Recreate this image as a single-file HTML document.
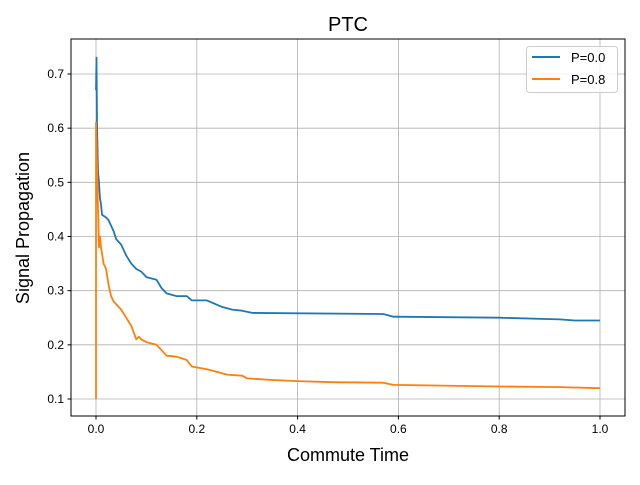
<!DOCTYPE html>
<html><head><meta charset="utf-8"><style>
body{margin:0;background:#fff;}
svg text{font-family:"Liberation Sans","DejaVu Sans",sans-serif;}
</style></head><body>
<svg id="chart" width="640" height="480" xmlns="http://www.w3.org/2000/svg">
<rect width="640" height="480" fill="#fff"/>
<g id="grid"></g>
<g id="series"></g>
<rect x="71" y="39" width="554" height="377" fill="none" stroke="#000" stroke-width="1"/>
<g id="ticks"></g>
<text x="348" y="31" font-size="20" text-anchor="middle">PTC</text>
<text x="348" y="461" font-size="18" text-anchor="middle">Commute Time</text>
<text transform="translate(29,228) rotate(-90)" font-size="18" text-anchor="middle">Signal Propagation</text>
<g>
<rect x="526.5" y="46.5" width="91" height="46" rx="3" fill="#fff" fill-opacity="0.8" stroke="#ccc"/>
<line x1="532" y1="57" x2="560" y2="57" stroke="#1f77b4" stroke-width="2"/>
<text x="571" y="62" font-size="13">P=0.0</text>
<line x1="532" y1="79" x2="560" y2="79" stroke="#ff7f0e" stroke-width="2"/>
<text x="571" y="84" font-size="13">P=0.8</text>
</g>
</svg>
<script>
const xTicks=[0,0.2,0.4,0.6,0.8,1.0];
const xTickLabels=["0.0","0.2","0.4","0.6","0.8","1.0"];
const yTicks=[0.1,0.2,0.3,0.4,0.5,0.6,0.7];
const yTickLabels=["0.1","0.2","0.3","0.4","0.5","0.6","0.7"];
const blueX=[0,0.001,0.002,0.004,0.006,0.008,0.01,0.012,0.02,0.025,0.03,0.035,0.04,0.05,0.06,0.07,0.08,0.09,0.1,0.12,0.13,0.14,0.16,0.18,0.19,0.22,0.25,0.27,0.29,0.31,0.57,0.59,0.8,0.92,0.95,1.0];
const blueY=[0.67,0.73,0.61,0.52,0.50,0.47,0.46,0.44,0.435,0.43,0.42,0.41,0.395,0.385,0.365,0.35,0.34,0.335,0.325,0.32,0.305,0.295,0.29,0.29,0.282,0.282,0.27,0.265,0.263,0.259,0.257,0.252,0.25,0.247,0.245,0.245];
const orangeX=[0,0,0.002,0.004,0.006,0.008,0.01,0.015,0.02,0.025,0.03,0.035,0.04,0.05,0.06,0.07,0.08,0.085,0.09,0.1,0.12,0.14,0.16,0.18,0.19,0.22,0.24,0.26,0.29,0.3,0.35,0.4,0.47,0.57,0.59,0.8,0.92,1.0];
const orangeY=[0.1,0.61,0.53,0.45,0.38,0.40,0.38,0.35,0.34,0.31,0.29,0.28,0.275,0.265,0.25,0.235,0.21,0.215,0.21,0.205,0.2,0.18,0.178,0.172,0.16,0.155,0.15,0.145,0.143,0.138,0.135,0.133,0.131,0.13,0.126,0.123,0.122,0.12];
const NS="http://www.w3.org/2000/svg";
function sx(v){return 96+v*504;}
function sy(v){return 399-(v-0.1)*541.67;}
const grid=document.getElementById('grid'),ticks=document.getElementById('ticks'),series=document.getElementById('series');
function mk(tag,attrs,parent){const e=document.createElementNS(NS,tag);for(const k in attrs)e.setAttribute(k,attrs[k]);parent.appendChild(e);return e;}
xTicks.forEach((t,i)=>{
 const g=mk('line',{x1:sx(t),x2:sx(t),y1:39,y2:416,stroke:'#b0b0b0','stroke-width':0.8},grid);
 
 
 mk('line',{x1:sx(t),x2:sx(t),y1:416,y2:419.5,stroke:'#000'},ticks);
 const tx=mk('text',{x:sx(t),y:433,'font-size':12,'text-anchor':'middle'},ticks);
 tx.textContent=xTickLabels[i];
 
 
});
yTicks.forEach((t,i)=>{
 const g=mk('line',{x1:71,x2:625,y1:sy(t),y2:sy(t),stroke:'#b0b0b0','stroke-width':0.8},grid);
 
 
 mk('line',{x1:67.5,x2:71,y1:sy(t),y2:sy(t),stroke:'#000'},ticks);
 const tx=mk('text',{x:64,y:sy(t)+4,'font-size':12,'text-anchor':'end'},ticks);
 tx.textContent=yTickLabels[i];
 
 
});
function line(xs,ys,color,name){
 const d=xs.map((x,i)=>(i?'L':'M')+sx(x).toFixed(1)+' '+sy(ys[i]).toFixed(1)).join(' ');
 const p=mk('path',{d:d,fill:'none',stroke:color,'stroke-width':1.8,'stroke-linejoin':'round'},series);
 
 
}
line(blueX,blueY,'#1f77b4','series-p00');
line(orangeX,orangeY,'#ff7f0e','series-p08');
</script>
</body></html>
